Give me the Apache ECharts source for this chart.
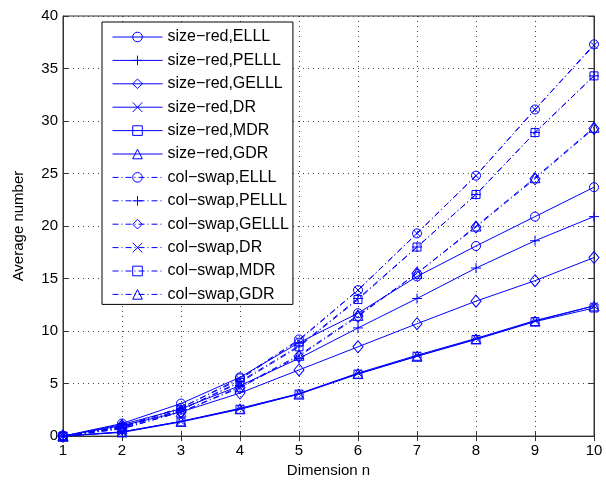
<!DOCTYPE html>
<html>
<head>
<meta charset="utf-8">
<script src="https://cdn.jsdelivr.net/npm/echarts@6/dist/echarts.min.js"></script>
<style>
  html, body { margin: 0; padding: 0; background: #fff; }
  #chart { width: 606px; height: 483px; }
</style>
</head>
<body>
<div id="chart"></div>
<script>
const chart = echarts.init(document.getElementById('chart'), null, { renderer: 'canvas' });

// dimension n
const dims = [1, 2, 3, 4, 5, 6, 7, 8, 9, 10];

// size-red variants (solid lines)
const sizeRedELLL  = [0, 1.2, 3.1, 5.6, 8.9, 11.7, 15.2, 18.1, 20.9, 23.7];
const sizeRedPELLL = [0, 1.1, 2.6, 4.8, 7.4, 10.3, 13.1, 16.0, 18.6, 20.9];
const sizeRedGELLL = [0, 1.0, 2.3, 4.1, 6.3, 8.5, 10.7, 12.85, 14.8, 17.0];
const sizeRedDR    = [0, 0.4, 1.4, 2.65, 4.05, 6.0, 7.7, 9.3, 11.0, 12.4];
const sizeRedMDR   = [0, 0.35, 1.35, 2.55, 4.0, 5.9, 7.6, 9.2, 10.9, 12.2];
const sizeRedGDR   = [0, 0.4, 1.4, 2.6, 4.0, 5.95, 7.6, 9.25, 10.95, 12.4];

// col-swap variants (dash-dot lines)
const colSwapELLL  = [0, 0.9, 2.7, 5.5, 9.2, 13.9, 19.3, 24.8, 31.1, 37.3];
const colSwapPELLL = [0, 0.8, 2.5, 5.2, 8.6, 13.1, 18.0, 23.0, 28.9, 34.3];
const colSwapGELLL = [0, 0.7, 2.3, 4.6, 7.6, 11.4, 15.5, 19.9, 24.5, 29.3];
const colSwapDR    = [0, 0.9, 2.7, 5.4, 9.1, 13.9, 19.3, 24.8, 31.1, 37.2];
const colSwapMDR   = [0, 0.8, 2.5, 5.1, 8.5, 13.0, 18.0, 23.0, 28.9, 34.3];
const colSwapGDR   = [0, 0.7, 2.3, 4.7, 7.7, 11.5, 15.5, 20.0, 24.6, 29.4];

const blue = '#0000ff';
const font = '"Liberation Sans", Arial, Helvetica, sans-serif';
const dashDot = [6, 3, 1, 3];

// marker shapes, unfilled like matlab
const marks = {
    circle:   { symbol: 'circle', size: 9 },
    plus:     { symbol: 'path://M0,-1L0,1M-1,0L1,0', size: 10 },
    diamond:  { symbol: 'diamond', size: [10, 12] },
    cross:    { symbol: 'path://M-1,-1L1,1M-1,1L1,-1', size: 7 },
    square:   { symbol: 'rect', size: 8 },
    triangle: { symbol: 'triangle', size: 10 }
};

function makeSeries(name, values, mark, dashed) {
    const m = marks[mark];
    return {
        name: name,
        type: 'line',
        data: dims.map((d, i) => [d, values[i]]),
        symbol: m.symbol,
        symbolSize: m.size,
        showAllSymbol: true,
        lineStyle: { color: blue, width: 1, type: dashed ? dashDot : 'solid' },
        itemStyle: { color: 'none', borderColor: blue, borderWidth: 1 },
        emphasis: { disabled: true },
        z: 3
    };
}

const series = [
    makeSeries('size\u2212red,ELLL', sizeRedELLL, 'circle', false),
    makeSeries('size\u2212red,PELLL', sizeRedPELLL, 'plus', false),
    makeSeries('size\u2212red,GELLL', sizeRedGELLL, 'diamond', false),
    makeSeries('size\u2212red,DR', sizeRedDR, 'cross', false),
    makeSeries('size\u2212red,MDR', sizeRedMDR, 'square', false),
    makeSeries('size\u2212red,GDR', sizeRedGDR, 'triangle', false),
    makeSeries('col\u2212swap,ELLL', colSwapELLL, 'circle', true),
    makeSeries('col\u2212swap,PELLL', colSwapPELLL, 'plus', true),
    makeSeries('col\u2212swap,GELLL', colSwapGELLL, 'diamond', true),
    makeSeries('col\u2212swap,DR', colSwapDR, 'cross', true),
    makeSeries('col\u2212swap,MDR', colSwapMDR, 'square', true),
    makeSeries('col\u2212swap,GDR', colSwapGDR, 'triangle', true)
];

const axisLine = { show: true, lineStyle: { color: '#333', width: 1 } };
const tickIn = { show: true, inside: true, length: 5, lineStyle: { color: '#333' } };

chart.setOption({
    animation: false,
    backgroundColor: '#fff',
    textStyle: { fontFamily: font },
    grid: { left: 63, right: 12, top: 16, bottom: 45, show: true, borderColor: '#333', borderWidth: 1 },
    legend: {
        orient: 'vertical',
        left: 102,
        top: 22,
        itemWidth: 50,
        itemHeight: 12,
        itemGap: 7.4,
        padding: [7, 4, 2, 10],
        backgroundColor: '#fff',
        borderColor: '#000',
        borderWidth: 1,
        selectedMode: false,
        lineStyle: { width: 1 },
        itemStyle: { borderWidth: 1 },
        textStyle: { fontSize: 16, color: '#000', fontFamily: font },
        data: series.map(s => s.name)
    },
    xAxis: [
        {
            type: 'value', min: 1, max: 10, interval: 1,
            name: 'Dimension n', nameLocation: 'middle', nameGap: 24,
            nameTextStyle: { fontSize: 15, color: '#000' },
            axisLine: axisLine, axisTick: tickIn,
            axisLabel: { fontSize: 15, color: '#000', margin: 7 },
            splitLine: { show: true, lineStyle: { color: '#444', type: [1, 4], width: 1 } }
        },
        {
            type: 'value', min: 1, max: 10, interval: 1, position: 'top',
            axisLine: axisLine, axisTick: tickIn,
            axisLabel: { show: false }, splitLine: { show: false }
        }
    ],
    yAxis: [
        {
            type: 'value', min: 0, max: 40, interval: 5,
            name: 'Average number', nameLocation: 'middle', nameGap: 37,
            nameTextStyle: { fontSize: 15, color: '#000' },
            axisLine: axisLine, axisTick: tickIn,
            axisLabel: { fontSize: 15, color: '#000', margin: 5 },
            splitLine: { show: true, lineStyle: { color: '#444', type: [1, 4], width: 1 } }
        },
        {
            type: 'value', min: 0, max: 40, interval: 5, position: 'right',
            axisLine: axisLine, axisTick: tickIn,
            axisLabel: { show: false }, splitLine: { show: false }
        }
    ],
    series: series
});

window.addEventListener('resize', () => chart.resize());
</script>
</body>
</html>
